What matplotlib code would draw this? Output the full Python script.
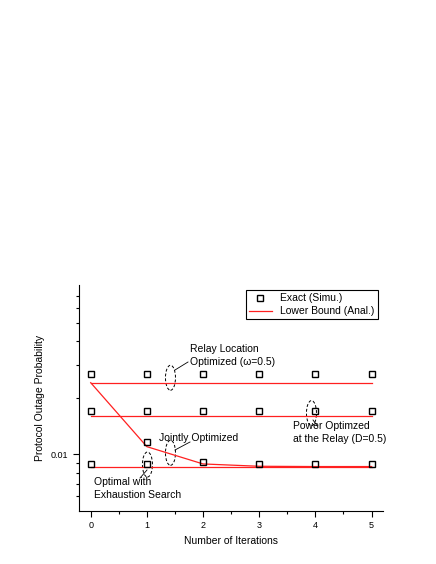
import matplotlib
matplotlib.use("Agg")

import matplotlib.pyplot as plt
import matplotlib.transforms as mtransforms
from matplotlib.patches import Ellipse
from matplotlib.ticker import FixedLocator, NullFormatter, FixedFormatter

plt.rcParams["font.family"] = ["Liberation Sans", "DejaVu Sans"]

iterations = [0, 1, 2, 3, 4, 5]

# Exact (simulation) values
exact_relay = [0.0269, 0.0269, 0.0269, 0.0269, 0.0269, 0.0269]
exact_power = [0.0170, 0.0170, 0.0170, 0.0170, 0.0170, 0.0170]
exact_optimal = [0.0089, 0.0089, 0.0091, 0.0089, 0.0089, 0.0089]
exact_joint = [0.0117]
exact_joint_x = [1]

# Lower bound (analytical)
bound_relay = [0.0241] * 6
bound_power = [0.0160] * 6
bound_optimal = [0.00862] * 6
bound_joint = [0.0241, 0.0110, 0.0089, 0.00865, 0.00862, 0.00862]

fig = plt.figure(figsize=(4.36, 5.64), dpi=100)
ax = fig.add_axes([0.181, 0.094, 0.697, 0.401])

red = "#ff2020"
for vals in (bound_relay, bound_power, bound_optimal):
    ax.plot(iterations, vals, color=red, lw=0.9)
ax.plot(iterations, bound_joint, color=red, lw=0.9, label="Lower Bound (Anal.)")

sq = dict(marker="s", ms=5, mfc="none", mec="black", mew=1.0, ls="none")
ax.plot(iterations, exact_relay, label="Exact (Simu.)", **sq)
ax.plot(iterations, exact_power, **sq)
ax.plot(iterations, exact_optimal, **sq)
ax.plot(exact_joint_x, exact_joint, **sq)

ax.set_yscale("log")
ax.set_ylim(0.005, 0.08)
ax.set_xlim(-0.21, 5.2)
ax.yaxis.set_major_locator(FixedLocator([0.01]))
ax.yaxis.set_major_formatter(FixedFormatter(["0.01"]))
ax.yaxis.set_minor_locator(FixedLocator([0.006, 0.007, 0.008, 0.009, 0.02, 0.03,
                                         0.04, 0.05, 0.06, 0.07]))
ax.yaxis.set_minor_formatter(NullFormatter())
ax.set_xticks(iterations)
ax.set_xticks([0.5, 1.5, 2.5, 3.5, 4.5], minor=True)
ax.tick_params(which="major", length=4, width=0.8, labelsize=6.5)
ax.tick_params(which="minor", length=2, width=0.8)
for s in ("top", "right"):
    ax.spines[s].set_visible(False)
ax.set_xlabel("Number of Iterations", fontsize=7.5)
ax.set_ylabel("Protocol Outage Probability", fontsize=7.5)

handles, labels = ax.get_legend_handles_labels()
leg = ax.legend(handles[::-1], labels[::-1], loc="upper right", fontsize=7.5,
                fancybox=False, edgecolor="black", framealpha=1,
                borderpad=0.3, handlelength=2.2, labelspacing=0.3,
                bbox_to_anchor=(1.0, 1.0))
leg.get_frame().set_linewidth(0.8)

# dashed ellipses marking each curve group
ellipse_pos = [(1.42, 0.0256), (3.93, 0.0166), (1.42, 0.0102), (1.01, 0.00884)]
for x, y in ellipse_pos:
    tr = fig.dpi_scale_trans + mtransforms.ScaledTranslation(x, y, ax.transData)
    ax.add_patch(Ellipse((0, 0), 0.1, 0.25, transform=tr, fill=False,
                         ls=(0, (3, 2)), lw=0.7, ec="black", clip_on=False))

notes = [
    ("Relay Location\nOptimized (ω=0.5)", (190, 197), (175, 194), (188, 202)),
    ("Power Optimzed\nat the Relay (D=0.5)", (293, 120), (313, 144), (318, 137)),
    ("Jointly Optimized", (159, 121), (175, 114), (190, 122)),
    ("Optimal with\nExhaustion Search", (94, 64), (147, 94), (140, 86)),
]
for text, pos, p0, p1 in notes:
    fig.text(pos[0] / 436, pos[1] / 564, text, fontsize=7.5, ha="left", va="bottom",
             linespacing=1.35)
    fig.add_artist(plt.Line2D([p0[0] / 436, p1[0] / 436], [p0[1] / 564, p1[1] / 564],
                              color="black", lw=0.6))

fig.savefig("out.png", dpi=100)
